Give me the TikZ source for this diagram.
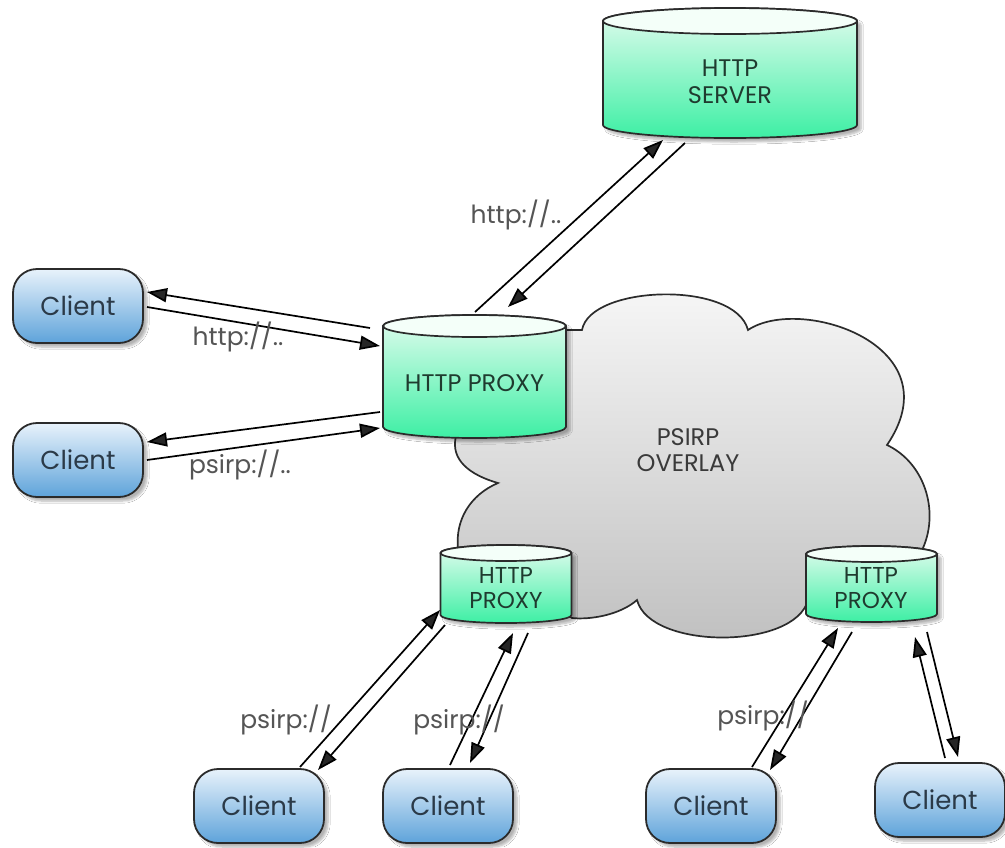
\documentclass[tikz,border=0pt]{standalone}
\usepackage{fontspec}
\setmainfont{Poppins}
\usetikzlibrary{arrows.meta,shadows.blur}

\definecolor{cylgreen}{HTML}{3DEFA4}
\definecolor{cylpale}{HTML}{E3FCEF}
\definecolor{cyltopc}{HTML}{F4FFF9}
\definecolor{cylink}{HTML}{1F3B2F}
\definecolor{clientlight}{HTML}{E8F2FB}
\definecolor{clientblue}{HTML}{5EA3DA}
\definecolor{clientink}{HTML}{2B3A48}
\definecolor{edgegray}{HTML}{2B2B2B}
\definecolor{labelgray}{HTML}{555555}
\definecolor{cloudink}{HTML}{3A3A3A}

% cylinder body and top face: x, y of top face, y of bottom face, x radius, y radius
\newcommand{\dbcyl}[5]{%
  \shade[cylbody] (#1-#4,#2) -- (#1-#4,#3) arc[start angle=180,end angle=0,x radius=#4,y radius=#5]
    -- (#1+#4,#2) arc[start angle=0,end angle=-180,x radius=#4,y radius=#5] -- cycle;
  \draw[cyltop] (#1,#2) ellipse[x radius=#4,y radius=#5];
}

\tikzset{
  softshadow/.style={blur shadow={shadow xshift=4pt,shadow yshift=-4pt,shadow blur steps=6,shadow opacity=30}},
  cylbody/.style={draw=edgegray,line width=1.7pt,top color=cylpale,bottom color=cylgreen,softshadow},
  cyltop/.style={draw=edgegray,line width=1.7pt,fill=cyltopc},
  cyltext/.style={text=cylink,align=center,font=\fontsize{24}{27}\selectfont},
  smalltext/.style={text=cylink,align=center,font=\fontsize{23}{25}\selectfont},
  cloud/.style={draw=edgegray,line width=1.7pt,top color=black!3,bottom color=black!25},
  cloudtext/.style={text=cloudink,align=center,font=\fontsize{24}{25.5}\selectfont},
  client/.style={draw=edgegray,line width=1.8pt,rounded corners=24pt,minimum width=130pt,
    minimum height=74pt,top color=clientlight,bottom color=clientblue,text=clientink,
    font=\fontsize{26}{28}\selectfont,softshadow},
  link/.style={line width=1.7pt,-{Triangle[length=20pt,width=14pt]}},
  lbl/.style={text=labelgray,font=\fontsize{25}{27}\selectfont},
}

\begin{document}
\begin{tikzpicture}[x=1pt,y=-1pt]
    \useasboundingbox[fill=white] (0,0) rectangle (1005,847);

    % overlay cloud
    \shade[cloud] (582,330) .. controls (590,285) and (735,280) .. (748,330)
      .. controls (800,295) and (955,345) .. (887,445)
      .. controls (950,475) and (950,590) .. (840,600) -- (808,600)
      .. controls (795,650) and (650,650) .. (637,600)
      .. controls (620,615) and (590,620) .. (572,618) -- (458,549)
      .. controls (455,520) and (470,495) .. (498,483)
      .. controls (470,475) and (450,460) .. (456,436)
      -- (550,420) -- (550,330) -- cycle;
    \node[cloudtext] (ovl) at (688,450) {PSIRP\\OVERLAY};

    % cylinders
    \dbcyl{730}{21}{125}{127}{13}
    \node[cyltext] (srv) at (730,82) {HTTP\\SERVER};
    \dbcyl{474.5}{326}{427}{91.5}{11}
    \node[cyltext] (prx) at (474.5,383) {HTTP PROXY};
    \dbcyl{506}{553}{615}{65.5}{8}
    \node[smalltext] (prxA) at (506,588) {HTTP\\PROXY};
    \dbcyl{871.5}{554}{614}{65.5}{8}
    \node[smalltext] (prxB) at (871,588) {HTTP\\PROXY};

    % clients
    \node[client] (cA) at (78,306) {Client};
    \node[client] (cB) at (78,460) {Client};
    \node[client] (cC) at (259,806) {Client};
    \node[client] (cD) at (448,806) {Client};
    \node[client] (cE) at (711,806) {Client};
    \node[client] (cF) at (940,800) {Client};

    % server <-> proxy
    \draw[link] ([shift={(0.5,-71)}]prx.center) -- ([shift={(-67,58)}]srv.center);
    \draw[link] ([shift={(-45,61)}]srv.center) -- ([shift={(33.5,-76)}]prx.center);

    % left clients <-> proxy
    \draw[link] ([shift={(-104.5,-55)}]prx.center) -- ([shift={(69,-14)}]cA.center);
    \draw[link] ([shift={(69,1)}]cA.center) -- ([shift={(-94.5,-37)}]prx.center);
    \draw[link] ([shift={(-94.5,29)}]prx.center) -- ([shift={(69,-18)}]cB.center);
    \draw[link] ([shift={(69,0)}]cB.center) -- ([shift={(-94.5,45)}]prx.center);

    % bottom clients <-> small proxies
    \draw[link] ([shift={(41,-39)}]cC.center) -- ([shift={(-66,22)}]prxA.center);
    \draw[link] ([shift={(-61,37)}]prxA.center) -- ([shift={(59,-36)}]cC.center);
    \draw[link] ([shift={(2,-41)}]cD.center) -- ([shift={(7,45)}]prxA.center);
    \draw[link] ([shift={(22,45)}]prxA.center) -- ([shift={(22,-43)}]cD.center);
    \draw[link] ([shift={(41,-39)}]cE.center) -- ([shift={(-33,40)}]prxB.center);
    \draw[link] ([shift={(-19,44)}]prxB.center) -- ([shift={(59,-36)}]cE.center);
    \draw[link] ([shift={(5,-42)}]cF.center) -- ([shift={(44,49)}]prxB.center);
    \draw[link] ([shift={(56,44)}]prxB.center) -- ([shift={(18,-43)}]cF.center);

    % labels
    \node[lbl] (lsrv) at (516,215) {http://..};
    \node[lbl] (lA) at (238,337) {http://..};
    \node[lbl] (lB) at (240,465) {psirp://..};
    \node[lbl] (lC) at (286,720) {psirp://};
    \node[lbl] (lD) at (459,720) {psirp://};
    \node[lbl] (lE) at (763,716) {psirp://};
\end{tikzpicture}
\end{document}
